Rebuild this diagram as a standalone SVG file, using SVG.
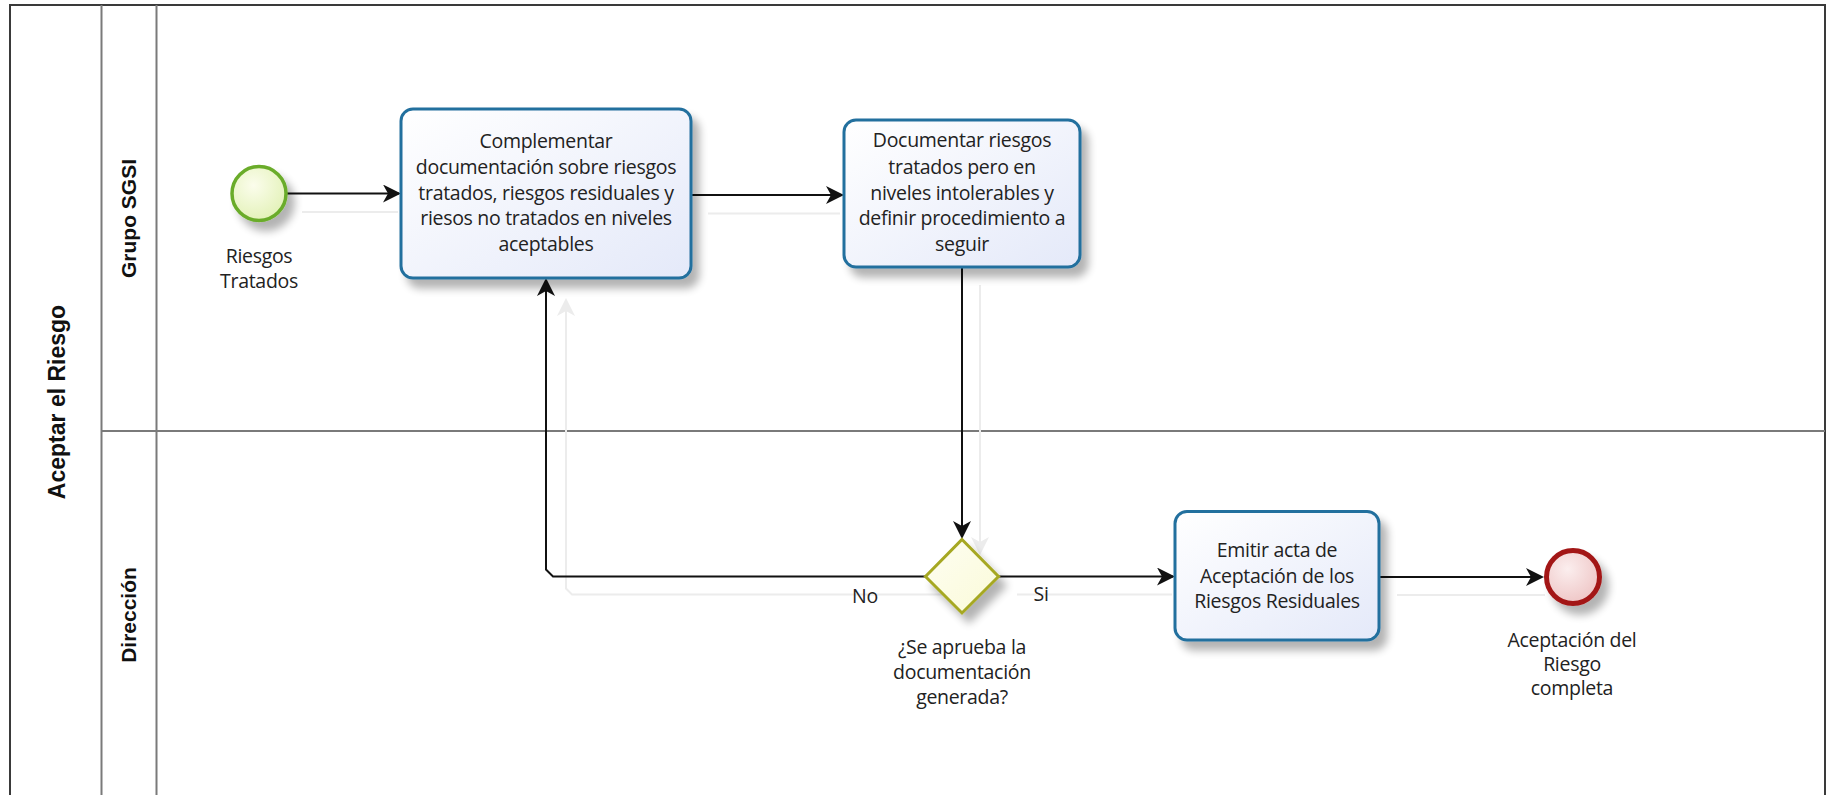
<svg xmlns="http://www.w3.org/2000/svg" width="1831" height="795" viewBox="0 0 1831 795">
  <defs>
    <style>
      .lbl { font-family: "Open Sans", "Liberation Sans", sans-serif; font-size: 19.5px; letter-spacing: -0.3px; fill: #222; text-anchor: middle; }
      .hdr { font-family: "Liberation Sans", Arial, sans-serif; font-weight: bold; fill: #111; text-anchor: middle; }
      .task { fill: url(#taskFill); stroke: #246f9e; stroke-width: 3; }
      .flow { fill: none; stroke: #111; stroke-width: 2; }
      .ghost { fill: none; stroke: #ececec; stroke-width: 2; }
      .lane { fill: none; stroke: #7a7a7a; stroke-width: 2; }
    </style>
    <linearGradient id="taskFill" x1="0" y1="0" x2="1" y2="1">
      <stop offset="0" stop-color="#ffffff"/>
      <stop offset="1" stop-color="#e4e9f9"/>
    </linearGradient>
    <radialGradient id="startFill" cx="0.4" cy="0.35" r="0.7">
      <stop offset="0" stop-color="#fbfdec"/>
      <stop offset="1" stop-color="#e2f1b6"/>
    </radialGradient>
    <radialGradient id="endFill" cx="0.4" cy="0.35" r="0.7">
      <stop offset="0" stop-color="#fbeeee"/>
      <stop offset="1" stop-color="#eec4c4"/>
    </radialGradient>
    <linearGradient id="gwFill" x1="0" y1="0" x2="1" y2="1">
      <stop offset="0" stop-color="#fefef2"/>
      <stop offset="1" stop-color="#fafad8"/>
    </linearGradient>
    <filter id="shadow" x="-30%" y="-30%" width="170%" height="180%">
      <feGaussianBlur in="SourceAlpha" stdDeviation="4.5"/>
      <feOffset dx="7" dy="9" result="b"/>
      <feComponentTransfer><feFuncA type="linear" slope="0.3"/></feComponentTransfer>
      <feMerge><feMergeNode/><feMergeNode in="SourceGraphic"/></feMerge>
    </filter>
    <marker id="arrow" viewBox="0 0 18 18" refX="16" refY="9" markerWidth="18" markerHeight="18" markerUnits="userSpaceOnUse" orient="auto">
      <path d="M0,0 L18,9 L0,18 L5,9 Z" fill="#111"/>
    </marker>
    <marker id="arrowGhost" viewBox="0 0 18 18" refX="16" refY="9" markerWidth="18" markerHeight="18" markerUnits="userSpaceOnUse" orient="auto">
      <path d="M0,0 L18,9 L0,18 L5,9 Z" fill="#ececec"/>
    </marker>
  </defs>

  <rect width="1831" height="795" fill="#ffffff"/>

  <!-- Pool and lanes -->
  <g id="pool">
    <path d="M10,800 V5 H1825 V800" fill="none" stroke="#3a3a3a" stroke-width="2"/>
    <line class="lane" x1="101.5" y1="5" x2="101.5" y2="800"/>
    <line class="lane" x1="156.5" y1="5" x2="156.5" y2="800"/>
    <line class="lane" x1="101.5" y1="431" x2="1825" y2="431"/>
    <text class="hdr" font-size="23" transform="translate(65,402) rotate(-90)">Aceptar el Riesgo</text>
  </g>
  <g id="lane-grupo-sgsi">
    <text class="hdr" font-size="21" transform="translate(136,218.5) rotate(-90)">Grupo SGSI</text>
  </g>
  <g id="lane-direccion">
    <text class="hdr" font-size="21" transform="translate(136,615) rotate(-90)">Dirección</text>
  </g>

  <!-- Sequence flows -->
  <g id="connectors">
    <path class="ghost" d="M302,212 H398"/>
    <path class="ghost" d="M708,213.5 H840"/>
    <path class="ghost" d="M980,285 V553" marker-end="url(#arrowGhost)"/>
    <path class="ghost" d="M944,594.5 H572 L566,588.5 V300" marker-end="url(#arrowGhost)"/>
    <path class="ghost" d="M1017,594.5 H1172"/>
    <path class="ghost" d="M1397,595 H1545"/>

    <path class="flow" d="M287,193.5 H399" marker-end="url(#arrow)"/>
    <path class="flow" d="M691,195 H842" marker-end="url(#arrow)"/>
    <path class="flow" d="M962,267 V537" marker-end="url(#arrow)"/>
    <path class="flow" d="M925.5,576.5 H553 L546,569.5 V280" marker-end="url(#arrow)"/>
    <path class="flow" d="M999,576.5 H1173" marker-end="url(#arrow)"/>
    <path class="flow" d="M1379,577 H1542" marker-end="url(#arrow)"/>
    <text class="lbl" x="865" y="603">No</text>
    <text class="lbl" x="1041" y="601">Si</text>
  </g>

  <!-- Start event -->
  <g id="start-riesgos-tratados">
    <circle cx="259" cy="193.5" r="27" fill="url(#startFill)" stroke="#6aac2a" stroke-width="3.5" filter="url(#shadow)"/>
    <text class="lbl" x="259" y="263">Riesgos</text>
    <text class="lbl" x="259" y="287.5">Tratados</text>
  </g>

  <!-- Task: Complementar documentación -->
  <g id="task-complementar">
    <rect class="task" x="401" y="109" width="290" height="169" rx="12" filter="url(#shadow)"/>
    <text class="lbl" x="546" y="148">Complementar</text>
    <text class="lbl" x="546" y="174">documentación sobre riesgos</text>
    <text class="lbl" x="546" y="200">tratados, riesgos residuales y</text>
    <text class="lbl" x="546" y="225">riesos no tratados en niveles</text>
    <text class="lbl" x="546" y="251">aceptables</text>
  </g>

  <!-- Task: Documentar riesgos intolerables -->
  <g id="task-documentar">
    <rect class="task" x="844" y="120" width="236" height="147" rx="12" filter="url(#shadow)"/>
    <text class="lbl" x="962" y="147">Documentar riesgos</text>
    <text class="lbl" x="962" y="174">tratados pero en</text>
    <text class="lbl" x="962" y="200">niveles intolerables y</text>
    <text class="lbl" x="962" y="225">definir procedimiento a</text>
    <text class="lbl" x="962" y="251">seguir</text>
  </g>

  <!-- Exclusive gateway -->
  <g id="gateway-aprobacion">
    <polygon points="962,539.5 998.5,576.5 962,613 925.5,576.5" fill="url(#gwFill)" stroke="#a6a824" stroke-width="3" filter="url(#shadow)"/>
    <text class="lbl" x="962" y="654">¿Se aprueba la</text>
    <text class="lbl" x="962" y="679">documentación</text>
    <text class="lbl" x="962" y="704">generada?</text>
  </g>

  <!-- Task: Emitir acta -->
  <g id="task-emitir-acta">
    <rect class="task" x="1175" y="511.5" width="204" height="128.5" rx="12" filter="url(#shadow)"/>
    <text class="lbl" x="1277" y="557">Emitir acta de</text>
    <text class="lbl" x="1277" y="583">Aceptación de los</text>
    <text class="lbl" x="1277" y="608">Riesgos Residuales</text>
  </g>

  <!-- End event -->
  <g id="end-aceptacion">
    <circle cx="1573" cy="577" r="26.5" fill="url(#endFill)" stroke="#a31818" stroke-width="5" filter="url(#shadow)"/>
    <text class="lbl" x="1572" y="647">Aceptación del</text>
    <text class="lbl" x="1572" y="671">Riesgo</text>
    <text class="lbl" x="1572" y="695">completa</text>
  </g>
</svg>
